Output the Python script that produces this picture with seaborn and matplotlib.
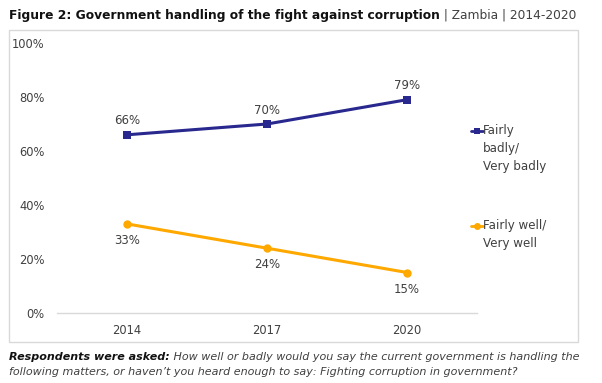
import matplotlib
matplotlib.use("Agg")
import matplotlib.pyplot as plt
import seaborn as sns
import pandas as pd
from matplotlib.patches import Rectangle
from matplotlib.lines import Line2D

years = ["2014", "2017", "2020"]
badly = [66, 70, 79]
well = [33, 24, 15]
series_names = ["Fairly badly/Very badly", "Fairly well/Very well"]
legend_labels = ["Fairly\nbadly/\nVery badly", "Fairly well/\nVery well"]
yticks = [0, 20, 40, 60, 80, 100]

BLUE = "#28288f"
ORANGE = "#ffa800"
TXT = "#404040"
GRID = "#d9d9d9"

sns.set_theme(style="white")
plt.rcParams["font.family"] = ["DejaVu Sans"]

df = pd.DataFrame({
    "year": years * 2,
    "value": badly + well,
    "series": [series_names[0]] * 3 + [series_names[1]] * 3,
})

W, H = 602, 383
fig = plt.figure(figsize=(W / 100, H / 100), dpi=100)

def fx(px):
    return px / W

def fy(py):
    return 1 - py / H

# axes area: x 57..477, y 43..313 (pixels from top)
ax = fig.add_axes([fx(57), fy(313), fx(477) - fx(57), fy(43) - fy(313)])

sns.lineplot(data=df, x="year", y="value", hue="series", style="series",
             palette={series_names[0]: BLUE, series_names[1]: ORANGE},
             markers={series_names[0]: "s", series_names[1]: "o"},
             dashes=False, markersize=6, markeredgewidth=0, linewidth=2.2,
             sort=False, legend=False, ax=ax)

ax.set_xlim(-0.5, 2.5)
ax.set_ylim(0, 100)
ax.set_yticks(yticks)
ax.set_yticklabels([f"{v}%" for v in yticks])
ax.set_xlabel("")
ax.set_ylabel("")
for s in ["top", "right", "left"]:
    ax.spines[s].set_visible(False)
ax.spines["bottom"].set_color(GRID)
ax.spines["bottom"].set_linewidth(1.0)
ax.tick_params(axis="both", length=0, labelsize=8.3, colors=TXT)
ax.tick_params(axis="y", pad=9)
ax.tick_params(axis="x", pad=8)
ax.patch.set_alpha(0)

for i, v in enumerate(badly):
    ax.annotate(f"{v}%", (i, v), xytext=(0, 10), textcoords="offset points",
                ha="center", va="center", fontsize=8.5, color=TXT)
for i, v in enumerate(well):
    ax.annotate(f"{v}%", (i, v), xytext=(0, -12), textcoords="offset points",
                ha="center", va="center", fontsize=8.5, color=TXT)

# outer frame
fig.add_artist(Rectangle((fx(9), fy(342)), fx(578) - fx(9), fy(30) - fy(342),
                         transform=fig.transFigure, fill=False,
                         edgecolor=GRID, linewidth=1.0))

# legend
def legend_entry(ypx, color, marker, label):
    fig.add_artist(Line2D([fx(471), fx(483)], [fy(ypx), fy(ypx)],
                          transform=fig.transFigure, color=color, linewidth=2))
    fig.add_artist(Line2D([fx(477)], [fy(ypx)], transform=fig.transFigure,
                          color=color, marker=marker, markersize=5,
                          markeredgewidth=0, linestyle="none"))
    fig.text(fx(483), fy(ypx - 7), label, ha="left", va="top", fontsize=8.6,
             color=TXT, linespacing=1.5)

legend_entry(131, BLUE, "s", legend_labels[0])
legend_entry(226, ORANGE, "o", legend_labels[1])

# title
t1 = fig.text(fx(9), fy(15), "Figure 2: Government handling of the fight against corruption",
              ha="left", va="center", fontsize=8.8, fontweight="bold", color="#111111")
plt.annotate(" | Zambia | 2014-2020", xy=(1, 0), xycoords=t1, ha="left", va="bottom",
             fontsize=8.8, color=TXT, annotation_clip=False)

# footnote
f1 = fig.text(fx(9), fy(357), "Respondents were asked:", ha="left", va="center",
              fontsize=8.0, fontweight="bold", fontstyle="italic", color="#111111")
plt.annotate(" How well or badly would you say the current government is handling the",
             xy=(1, 0), xycoords=f1, ha="left", va="bottom", fontsize=8.0,
             fontstyle="italic", color=TXT, annotation_clip=False)
fig.text(fx(9), fy(372), "following matters, or haven\u2019t you heard enough to say: Fighting corruption in government?",
         ha="left", va="center", fontsize=8.0, fontstyle="italic", color=TXT)

fig.savefig("out.png", dpi=100)
